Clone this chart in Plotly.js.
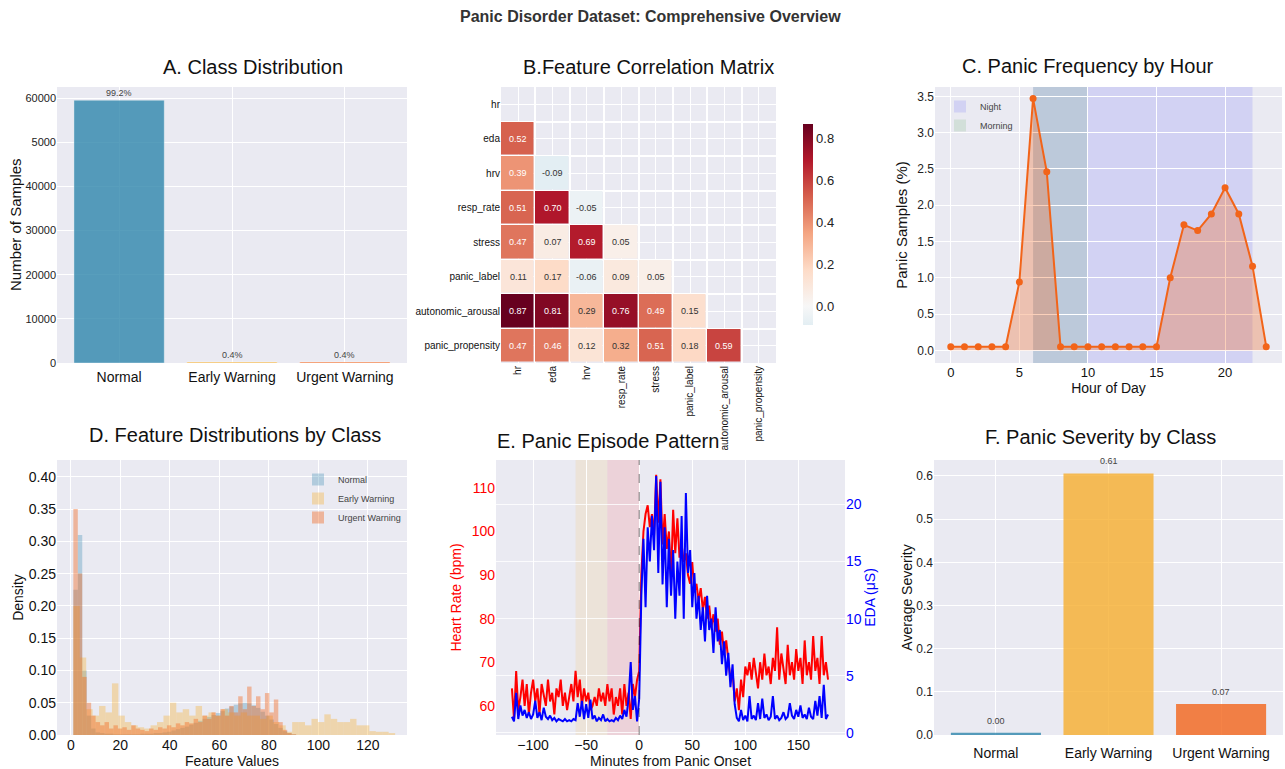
<!DOCTYPE html>
<html>
<head>
<meta charset="utf-8">
<script src="https://cdn.plot.ly/plotly-3.0.1.min.js"></script>
<style>
  html, body { margin: 0; padding: 0; background: #ffffff; }
  #chart { width: 1285px; height: 769px; }
</style>
</head>
<body>
<div id="chart"></div>
<script>
// ---------------- DATA ----------------
// A. Class distribution
const classNames = ['Normal', 'Early Warning', 'Urgent Warning'];
const classCounts = [59500, 240, 240];
const classPctLabels = ['99.2%', '0.4%', '0.4%'];
const countTickVals = [0, 10000, 20000, 30000, 40000, 50000, 60000];
const countTickText = ['0', '10000', '20000', '30000', '40000', '5000', '60000'];

// B. Correlation matrix (lower triangle)
const features = ['hr', 'eda', 'hrv', 'resp_rate', 'stress', 'panic_label', 'autonomic_arousal', 'panic_propensity'];
const corrRows = [
  [],
  [0.52],
  [0.39, -0.09],
  [0.51, 0.70, -0.05],
  [0.47, 0.07, 0.69, 0.05],
  [0.11, 0.17, -0.06, 0.09, 0.05],
  [0.87, 0.81, 0.29, 0.76, 0.49, 0.15],
  [0.47, 0.46, 0.12, 0.32, 0.51, 0.18, 0.59]
];

// C. Panic frequency by hour
const hours = [0, 1, 2, 3, 4, 5, 6, 7, 8, 9, 10, 11, 12, 13, 14, 15, 16, 17, 18, 19, 20, 21, 22, 23];
const panicPct = [0.05, 0.05, 0.05, 0.05, 0.05, 0.94, 3.47, 2.46, 0.05, 0.05, 0.05, 0.05, 0.05, 0.05, 0.05, 0.05, 1.00, 1.73, 1.65, 1.88, 2.24, 1.88, 1.16, 0.05];
const nightSpan = [6, 22];
const morningSpan = [6, 10];

// D. Feature distributions (density histograms)
const normalBinStart = 1.0, normalBinWidth = 1.8;
const normalDensity = [0.225, 0.31, 0.10, 0.03, 0.01, 0.004, 0.003, 0.002, 0.002, 0.001,
  0.001, 0.001, 0.001, 0.001, 0.001, 0.002, 0.002, 0.002, 0.003, 0.003,
  0.004, 0.005, 0.007, 0.009, 0.011, 0.013, 0.016, 0.019, 0.022, 0.025,
  0.028, 0.031, 0.034, 0.037, 0.041, 0.044, 0.047, 0.049, 0.050, 0.049,
  0.046, 0.042, 0.036, 0.030, 0.024, 0.017, 0.011, 0.006, 0.003, 0.001];
const earlyBinStart = 1.0, earlyBinWidth = 2.6;
const earlyDensity = [0.20, 0.12, 0.04, 0.03, 0.045, 0.035, 0.08, 0.03, 0.02, 0.015,
  0.012, 0.01, 0.015, 0.02, 0.03, 0.05, 0.035, 0.04, 0.03, 0.045,
  0.03, 0.035, 0.03, 0.04, 0.035, 0.03, 0.035, 0.03, 0.03, 0.025,
  0.03, 0.02, 0.015, 0.005, 0.02, 0.02, 0.015, 0.025, 0.02, 0.032,
  0.025, 0.02, 0.02, 0.025, 0.015, 0.015, 0.006, 0.005, 0.005, 0.003];
const urgentBinStart = 1.0, urgentBinWidth = 1.8;
const urgentDensity = [0.35, 0.25, 0.09, 0.05, 0.03, 0.02, 0.015, 0.02, 0.01, 0.015,
  0.01, 0.012, 0.008, 0.015, 0.01, 0.008, 0.006, 0.01, 0.008, 0.012,
  0.01, 0.015, 0.012, 0.018, 0.015, 0.02, 0.018, 0.025, 0.02, 0.03,
  0.025, 0.035, 0.03, 0.04, 0.03, 0.045, 0.035, 0.06, 0.04, 0.075,
  0.045, 0.06, 0.04, 0.065, 0.035, 0.055, 0.02, 0.008, 0.003, 0.001];

// E. Panic episode pattern
const minutes = [-120, -118, -116, -114, -112, -110, -108, -106, -104, -102, -100, -98, -96, -94, -92, -90, -88, -86, -84, -82,
  -80, -78, -76, -74, -72, -70, -68, -66, -64, -62, -60, -58, -56, -54, -52, -50, -48, -46, -44, -42,
  -40, -38, -36, -34, -32, -30, -28, -26, -24, -22, -20, -18, -16, -14, -12, -10, -8, -6, -4, -2,
  0, 2, 4, 6, 8, 10, 12, 14, 16, 18, 20, 22, 24, 26, 28, 30, 32, 34, 36, 38,
  40, 42, 44, 46, 48, 50, 52, 54, 56, 58, 60, 62, 64, 66, 68, 70, 72, 74, 76, 78,
  80, 82, 84, 86, 88, 90, 92, 94, 96, 98, 100, 102, 104, 106, 108, 110, 112, 114, 116, 118,
  120, 122, 124, 126, 128, 130, 132, 134, 136, 138, 140, 142, 144, 146, 148, 150, 152, 154, 156, 158,
  160, 162, 164, 166, 168, 170, 172, 174, 176, 178];
const heartRate = [64, 57, 68, 59, 62, 66, 60, 65, 58, 63, 66, 61, 64, 58, 65, 62, 60, 66, 61, 63,
  58, 64, 62, 66, 60, 63, 59, 62, 65, 61, 68, 62, 66, 60, 64, 61, 63, 59, 60, 62,
  60, 64, 61, 63, 60, 65, 61, 64, 58, 62, 60, 64, 58, 65, 60, 63, 57, 65, 62, 66,
  68, 90, 100, 104, 106, 101, 104, 99, 113, 102, 112, 97, 104, 96, 100, 89, 105, 95, 103, 94,
  97, 93, 95, 90, 88, 93, 86, 88, 84, 87, 82, 85, 80, 83, 78, 81, 77, 80, 74, 77,
  72, 75, 70, 66, 68, 61, 64, 59, 66, 62, 69, 67, 70, 66, 71, 68, 64, 70, 66, 72,
  67, 69, 65, 71, 68, 78, 66, 72, 68, 65, 74, 67, 70, 66, 73, 68, 71, 65, 75, 67,
  70, 66, 76, 68, 71, 65, 76, 67, 70, 66];
const edaValues = [1.4, 1.0, 3.5, 1.2, 2.4, 1.5, 2.0, 1.3, 1.8, 1.2, 1.6, 2.8, 1.3, 1.8, 1.1, 2.2, 1.4, 1.2, 1.5, 1.1,
  1.3, 1.0, 1.2, 1.1, 1.0, 1.2, 1.0, 1.1, 1.0, 1.2, 1.1, 2.6, 1.4, 2.8, 1.2, 2.5, 1.3, 2.9, 1.2, 1.5,
  1.0, 1.3, 1.1, 1.6, 1.0, 1.2, 1.0, 1.1, 1.0, 1.3, 1.1, 1.5, 1.2, 2.0, 1.4, 3.0, 6.2, 2.0, 3.2, 1.0,
  3.0, 12, 17, 11, 18, 15, 19, 16, 22.5, 14, 22, 13, 18, 11, 17, 12, 16, 10, 15, 12,
  19, 10, 21, 14, 16, 11, 14, 10, 12, 9, 11, 8, 12, 9, 10, 7, 11, 8, 9, 6,
  8, 5, 7, 4, 6, 2.5, 1.3, 1.0, 2.0, 1.1, 1.5, 1.0, 3.2, 1.2, 1.5, 1.1, 2.6, 1.2, 3.0, 1.3,
  1.6, 1.1, 1.4, 3.2, 1.2, 1.5, 1.1, 1.3, 1.8, 1.2, 1.4, 2.6, 1.5, 1.2, 2.0, 1.4, 2.4, 1.3, 1.6, 1.2,
  2.2, 1.4, 1.2, 2.8, 1.5, 3.2, 1.3, 4.2, 1.2, 1.6];
const preWarnSpan = [-60, -30];
const urgentSpan = [-30, 0];
const onsetMinute = 0;

// F. Panic severity by class
const severity = [0.005, 0.606, 0.072];
const severityLabels = ['0.00', '0.61', '0.07'];

// ---------------- STYLE / LAYOUT HELPERS ----------------
const W = 1285, H = 769;
const FONT = 'Liberation Sans, Arial, Helvetica, sans-serif';
const px = v => v / W;
const py = v => 1 - v / H;
const classColors = ['rgba(46,134,171,0.8)', 'rgba(246,174,45,0.8)', 'rgba(242,100,25,0.8)'];
const histColors = ['rgba(46,134,171,0.3)', 'rgba(246,174,45,0.35)', 'rgba(242,100,25,0.4)'];
const BG = '#eaeaf2';

function baseAxis(extra) {
  return Object.assign({
    showgrid: true, gridcolor: '#ffffff', gridwidth: 1,
    zeroline: false, showline: false, ticks: '',
    tickfont: { family: FONT, size: 12, color: '#222' },
    fixedrange: true
  }, extra);
}
function axTitle(text, size, color, standoff) {
  return { text: text, font: { family: FONT, size: size, color: color || '#111' }, standoff: standoff };
}

const traces = [];
const annotations = [];
const shapes = [];

// ---- A ----
traces.push({
  type: 'bar', x: classNames, y: classCounts, xaxis: 'x', yaxis: 'y',
  marker: { color: classColors, line: { color: 'rgba(255,255,255,0.35)', width: 1 } },
  showlegend: false, hoverinfo: 'x+y'
});
classNames.forEach((c, i) => annotations.push({
  x: c, y: classCounts[i], xref: 'x', yref: 'y', text: classPctLabels[i], showarrow: false,
  yanchor: 'bottom', yshift: 0, font: { family: FONT, size: 9, color: '#444' }
}));

// ---- B ----
const n = features.length;
const zMat = [];
for (let i = 0; i < n; i++) {
  const row = [];
  for (let j = 0; j < n; j++) row.push(j < i ? corrRows[i][j] : null);
  zMat.push(row);
}
const idx = features.map((_, i) => i);
traces.push({
  type: 'heatmap', z: zMat, x: idx, y: idx, xaxis: 'x2', yaxis: 'y2',
  zmin: -0.09, zmax: 0.87, xgap: 1.5, ygap: 1.5, hoverongaps: false,
  colorscale: [[0, 'rgb(227,238,243)'], [0.09375, '#f7f7f7'], [0.275, '#fddbc7'], [0.4563, '#f4a582'],
    [0.6375, '#d6604d'], [0.8188, '#b2182b'], [1, '#67001f']],
  colorbar: {
    x: px(793), xanchor: 'left', y: py(114), yanchor: 'top', len: (335 - 114) / H, lenmode: 'fraction',
    thickness: 10, outlinewidth: 0, tickvals: [0, 0.2, 0.4, 0.6, 0.8], ticktext: ['0.0', '0.2', '0.4', '0.6', '0.8'],
    tickfont: { family: FONT, size: 13, color: '#222' }, ticks: ''
  },
  showlegend: false
});
for (let i = 0; i < n; i++) for (let j = 0; j < i; j++) {
  const v = corrRows[i][j];
  annotations.push({
    x: j, y: i, xref: 'x2', yref: 'y2', text: v.toFixed(2), showarrow: false,
    font: { family: FONT, size: 9, color: Math.abs(v) >= 0.35 ? '#ffffff' : '#333333' }
  });
}

// ---- C ----
shapes.push({
  type: 'rect', xref: 'x3', yref: 'y3 domain', x0: nightSpan[0], x1: nightSpan[1], y0: 0, y1: 1,
  fillcolor: 'rgba(0,0,255,0.1)', line: { width: 0 }, layer: 'below',
  showlegend: true, name: 'Night', legend: 'legend'
});
shapes.push({
  type: 'rect', xref: 'x3', yref: 'y3 domain', x0: morningSpan[0], x1: morningSpan[1], y0: 0, y1: 1,
  fillcolor: 'rgba(0,128,0,0.1)', line: { width: 0 }, layer: 'below',
  showlegend: true, name: 'Morning', legend: 'legend'
});
traces.push({
  type: 'scatter', mode: 'lines+markers', x: hours, y: panicPct, xaxis: 'x3', yaxis: 'y3',
  line: { color: '#F26419', width: 2 }, marker: { color: '#F26419', size: 7 },
  fill: 'tozeroy', fillcolor: 'rgba(242,100,25,0.3)', showlegend: false
});

// ---- D ----
function binCenters(start, width, count) {
  const out = [];
  for (let i = 0; i < count; i++) out.push(start + width * (i + 0.5));
  return out;
}
[
  ['Normal', normalBinStart, normalBinWidth, normalDensity, histColors[0]],
  ['Early Warning', earlyBinStart, earlyBinWidth, earlyDensity, histColors[1]],
  ['Urgent Warning', urgentBinStart, urgentBinWidth, urgentDensity, histColors[2]]
].forEach(([name, s, w, d, col]) => traces.push({
  type: 'bar', name: name, x: binCenters(s, w, d.length), y: d, width: w, xaxis: 'x4', yaxis: 'y4',
  marker: { color: col, line: { width: 0 } }, legend: 'legend2', showlegend: true
}));

// ---- E ----
shapes.push({
  type: 'rect', xref: 'x5', yref: 'y5 domain', x0: preWarnSpan[0], x1: preWarnSpan[1], y0: 0, y1: 1,
  fillcolor: 'rgba(255,165,0,0.1)', line: { width: 0 }, layer: 'below'
});
shapes.push({
  type: 'rect', xref: 'x5', yref: 'y5 domain', x0: urgentSpan[0], x1: urgentSpan[1], y0: 0, y1: 1,
  fillcolor: 'rgba(255,0,0,0.1)', line: { width: 0 }, layer: 'below'
});
shapes.push({
  type: 'line', xref: 'x5', yref: 'y5 domain', x0: onsetMinute, x1: onsetMinute, y0: 0, y1: 1,
  line: { color: 'rgba(0,0,0,0.5)', width: 1, dash: 'dash' }, layer: 'above'
});
traces.push({
  type: 'scatter', mode: 'lines', x: minutes, y: heartRate, xaxis: 'x5', yaxis: 'y5',
  line: { color: '#ff0000', width: 2 }, showlegend: false, name: 'Heart Rate'
});
traces.push({
  type: 'scatter', mode: 'lines', x: minutes, y: edaValues, xaxis: 'x5', yaxis: 'y7',
  line: { color: '#0000ff', width: 2 }, showlegend: false, name: 'EDA'
});

// ---- F ----
traces.push({
  type: 'bar', x: classNames, y: severity, xaxis: 'x6', yaxis: 'y6',
  marker: { color: classColors }, showlegend: false
});
classNames.forEach((c, i) => annotations.push({
  x: c, y: severity[i], xref: 'x6', yref: 'y6', text: severityLabels[i], showarrow: false,
  yanchor: 'bottom', yshift: 5, font: { family: FONT, size: 9, color: '#444' }
}));

// ---- Titles ----
annotations.push({
  text: '<b>Panic Disorder Dataset: Comprehensive Overview</b>', xref: 'paper', yref: 'paper',
  x: px(650), y: py(17), showarrow: false, xanchor: 'center', yanchor: 'middle',
  font: { family: FONT, size: 16, color: '#333' }
});
[
  ['A. Class Distribution', 253, 67],
  ['B.Feature Correlation Matrix', 648, 67],
  ['C. Panic Frequency by Hour', 1088, 66],
  ['D. Feature Distributions by Class', 235, 435],
  ['E. Panic Episode Pattern', 608, 441],
  ['F. Panic Severity by Class', 1100, 437]
].forEach(([t, x, y]) => annotations.push({
  text: t, xref: 'paper', yref: 'paper', x: px(x), y: py(y), showarrow: false,
  xanchor: 'center', yanchor: 'middle', font: { family: FONT, size: 20, color: '#111' }
}));
// y-axis title of panel A placed precisely
annotations.push({
  text: 'Number of Samples', xref: 'paper', yref: 'paper', x: px(15), y: py(225), textangle: -90,
  showarrow: false, xanchor: 'center', yanchor: 'middle', font: { family: FONT, size: 15, color: '#111' }
});

const layout = {
  width: W, height: H,
  margin: { l: 0, r: 0, t: 0, b: 0 },
  paper_bgcolor: '#ffffff', plot_bgcolor: BG,
  font: { family: FONT, color: '#222' },
  barmode: 'overlay', bargap: 0.2,
  showlegend: true,
  // A
  xaxis: baseAxis({ domain: [px(57), px(407)], anchor: 'y', type: 'category', range: [-0.55, 2.55],
    ticklabelstandoff: 4, tickfont: { family: FONT, size: 14, color: '#111' } }),
  yaxis: baseAxis({ domain: [py(363), py(87)], anchor: 'x', range: [0, 62500],
    tickvals: countTickVals, ticktext: countTickText, tickfont: { family: FONT, size: 11, color: '#222' } }),
  // B
  xaxis2: baseAxis({ domain: [px(501), px(776)], anchor: 'y2', range: [-0.5, 7.5],
    tickvals: idx, ticktext: features, tickangle: -90, tickfont: { family: FONT, size: 10, color: '#111' },
    minor: { dtick: 1, tick0: 0.5, showgrid: true, gridcolor: '#ffffff', gridwidth: 1.5, ticks: '' } }),
  yaxis2: baseAxis({ domain: [py(363), py(87)], anchor: 'x2', range: [7.5, -0.5],
    tickvals: idx, ticktext: features, tickfont: { family: FONT, size: 10, color: '#111' },
    minor: { dtick: 1, tick0: 0.5, showgrid: true, gridcolor: '#ffffff', gridwidth: 1.5, ticks: '' } }),
  // C
  xaxis3: baseAxis({ domain: [px(935), px(1282)], anchor: 'y3', range: [-1.15, 24.15],
    tickvals: [0, 5, 10, 15, 20], tickfont: { family: FONT, size: 13, color: '#111' },
    title: axTitle('Hour of Day', 14, '#111', 2) }),
  yaxis3: baseAxis({ domain: [py(363), py(87)], anchor: 'x3', range: [-0.175, 3.63],
    tickvals: [0, 0.5, 1, 1.5, 2, 2.5, 3, 3.5], tickformat: '.1f',
    title: axTitle('Panic Samples (%)', 15, '#111', 6) }),
  // D
  xaxis4: baseAxis({ domain: [px(57), px(407)], anchor: 'y4', range: [-5.6, 135.8],
    tickvals: [0, 20, 40, 60, 80, 100, 120], tickfont: { family: FONT, size: 14, color: '#111' },
    title: axTitle('Feature Values', 14, '#111', 2) }),
  yaxis4: baseAxis({ domain: [py(735), py(460)], anchor: 'x4', range: [0, 0.426],
    tickvals: [0, 0.05, 0.1, 0.15, 0.2, 0.25, 0.3, 0.35, 0.4], tickformat: '.2f',
    tickfont: { family: FONT, size: 14, color: '#111' }, title: axTitle('Density', 14, '#111', 1) }),
  // E
  xaxis5: baseAxis({ domain: [px(496), px(845)], anchor: 'y5', range: [-135, 194],
    tickvals: [-100, -50, 0, 50, 100, 150], tickfont: { family: FONT, size: 14, color: '#111' },
    title: axTitle('Minutes from Panic Onset', 14, '#111', 2) }),
  yaxis5: baseAxis({ domain: [py(735), py(460)], anchor: 'x5', range: [53.3, 116.4], showgrid: false,
    tickvals: [60, 70, 80, 90, 100, 110], tickfont: { family: FONT, size: 14, color: '#ff0000' },
    title: axTitle('Heart Rate (bpm)', 14, '#ff0000', 6) }),
  yaxis7: baseAxis({ overlaying: 'y5', side: 'right', anchor: 'x5', range: [-0.2, 23.9],
    tickvals: [0, 5, 10, 15, 20], tickfont: { family: FONT, size: 14, color: '#0000ff' },
    gridcolor: 'rgba(255,255,255,0.8)',
    title: axTitle('EDA (μS)', 14, '#0000ff', 0) }),
  // F
  xaxis6: baseAxis({ domain: [px(934), px(1283)], anchor: 'y6', type: 'category', range: [-0.55, 2.55],
    ticklabelstandoff: 8, tickfont: { family: FONT, size: 14, color: '#111' } }),
  yaxis6: baseAxis({ domain: [py(735), py(460)], anchor: 'x6', range: [0, 0.637],
    tickvals: [0, 0.1, 0.2, 0.3, 0.4, 0.5, 0.6], tickformat: '.1f',
    title: axTitle('Average Severity', 14, '#111', 0) }),
  legend: {
    x: px(940), y: py(92), xanchor: 'left', yanchor: 'top', bgcolor: 'rgba(0,0,0,0)',
    font: { family: FONT, size: 9, color: '#444' }, itemwidth: 30, tracegroupgap: 0
  },
  legend2: {
    x: px(298), y: py(465), xanchor: 'left', yanchor: 'top', bgcolor: 'rgba(0,0,0,0)',
    font: { family: FONT, size: 9, color: '#444' }, itemwidth: 30, tracegroupgap: 0
  },
  annotations: annotations,
  shapes: shapes
};

Plotly.newPlot('chart', traces, layout, { displayModeBar: false, responsive: false });
</script>
</body>
</html>
